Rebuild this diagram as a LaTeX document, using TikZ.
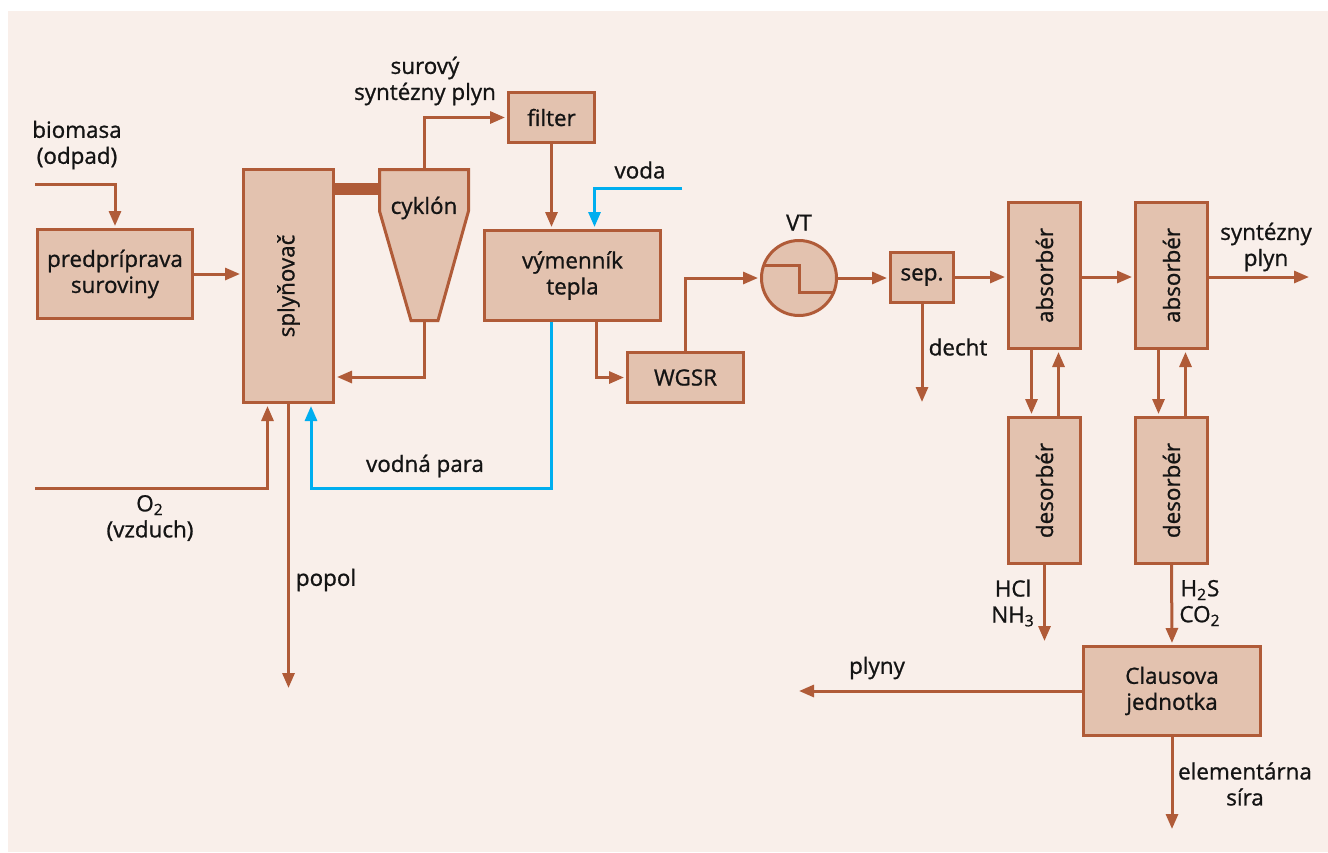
\documentclass[tikz,border=0pt]{standalone}
\usepackage{fontspec}
\setmainfont{Open Sans}[FakeBold=1.0]
\usepackage{xcolor}
\usetikzlibrary{arrows.meta,calc}
\definecolor{pbg}{RGB}{249,239,234}
\definecolor{pbox}{RGB}{227,194,175}
\definecolor{pline}{RGB}{176,91,56}
\definecolor{pblue}{RGB}{0,174,239}
\definecolor{ptext}{RGB}{20,20,20}
\newcommand{\lbl}{\fontsize{11.2}{13}\selectfont}
\tikzset{
  box/.style={rectangle,draw=pline,line width=1.5pt,fill=pbox,inner sep=1pt,
              align=center,font=\lbl,text=ptext},
  txt/.style={font=\lbl,align=center,inner sep=0pt,text=ptext},
  plain/.style={pline,line width=1.5pt},
  flow/.style={plain,-{Triangle[length=7.5pt,width=6pt]},shorten >=1pt},
  steam/.style={flow,draw=pblue},
  tube/.style={pline,line width=6pt},
}

\begin{document}
\begin{tikzpicture}[x=0.5pt,y=-0.5pt]
  \useasboundingbox (0,0) rectangle (1328,852);
  \fill[white] (0,0) rectangle (1328,852);
  \fill[pbg] (8,11) rectangle (1328,852);
  % gasifier line
  \node[box,minimum width=77.5pt,minimum height=44.5pt] (pre) at (115,274) {predpríprava\\suroviny};
  \node[box,minimum width=45pt,minimum height=116.5pt,
        label={[txt,rotate=90]center:splyňovač}] (gas) at (288.5,286) {};
  \coordinate (cykl) at (379.5,189);
  \draw[tube] (gas.east |- cykl) -- (cykl);
  \draw[plain,fill=pbox] (379.5,169.5) -- (468.5,169.5) -- (468.5,211) -- (438,320.5)
    -- (411,320.5) -- (379.5,211) -- cycle;
  \node[txt] (cyk) at (424,208) {cyklón};
  \coordinate (cyktop) at (424,169.5);
  \coordinate (cykbot) at (424,320.5);
  \node[box,minimum width=43pt,minimum height=25pt] (fil) at (551.5,117.5) {filter};
  \node[box,minimum width=88pt,minimum height=45pt] (vym) at (572.5,275.5) {výmenník\\tepla};
  \node[box,minimum width=58pt,minimum height=25pt] (wgsr) at (685.5,377.5) {WGSR};
  \node[circle,draw=pline,line width=1.5pt,fill=pbox,minimum size=37.5pt,
        label={[txt,label distance=4pt]above:VT}] (vt) at (799,278) {};
  \draw[plain] ($(vt)+(-35,-13)$) -| ($(vt)+(0,14)$) -- ($(vt)+(35,14)$);
  % cleaning
  \node[box,minimum width=31.5pt,minimum height=25pt] (sep) at (922,277) {sep.};
  \node[box,minimum width=36pt,minimum height=73pt,
        label={[txt,rotate=90]center:absorbér}] (ab1) at (1044.5,275.5) {};
  \node[box,minimum width=36pt,minimum height=73pt,
        label={[txt,rotate=90]center:absorbér}] (ab2) at (1171.5,275.5) {};
  \node[box,minimum width=36pt,minimum height=73pt,
        label={[txt,rotate=90]center:desorbér}] (de1) at (1044.5,490.5) {};
  \node[box,minimum width=36pt,minimum height=73pt,
        label={[txt,rotate=90]center:desorbér}] (de2) at (1171.5,490.5) {};
  \node[box,minimum width=88.5pt,minimum height=44.5pt] (cl) at (1172,691) {Clausova\\jednotka};
  % free ends
  \coordinate (bioin) at (35,184);
  \coordinate (oxin) at (35,488);
  \coordinate (ashout) at (288.5,690);
  \coordinate (parj) at (311,488);
  \coordinate (vodin) at (682,188);
  \coordinate (tarout) at (922,404);
  \coordinate (synout) at (1311,277);
  \coordinate (hclout) at (1044.5,643);
  \coordinate (plout) at (797,691);
  \coordinate (sulout) at (1172,831);
  % streams
  \draw[flow] (bioin) -| (pre.north);
  \draw[flow] (pre.east) -- (pre.east -| gas.west);
  \draw[flow] (oxin) -| ($(gas.south)+(-21,0)$);
  \draw[flow] (gas.south) -- (ashout);
  \draw[flow] (cyktop) |- (fil.west);
  \draw[flow] (cykbot) |- ($(gas.south east)+(0,-27)$);
  \draw[flow] (fil.south) -- (fil.south |- vym.north);
  \draw[steam] (vodin) -| ($(vym.north)+(22,0)$);
  \draw[steam] ($(vym.south)+(-21,0)$) |- (parj) -- (parj |- gas.south);
  \draw[flow] ($(vym.south)+(24,0)$) |- (wgsr.west);
  \draw[flow] (wgsr.north) |- (vt.west);
  \draw[flow] (vt.east) -- (vt.east -| sep.west);
  \draw[flow] (sep.east) -- (sep.east -| ab1.west);
  \draw[flow] (sep.south) -- (tarout);
  \draw[flow] (ab1.east |- sep.east) -- (ab2.west |- sep.east);
  \draw[flow] (ab2.east |- synout) -- (synout);
  \draw[flow] ($(ab1.south)+(-13,0)$) -- ($(de1.north)+(-13,0)$);
  \draw[flow] ($(de1.north)+(14,0)$) -- ($(ab1.south)+(14,0)$);
  \draw[flow] ($(ab2.south)+(-13,0)$) -- ($(de2.north)+(-13,0)$);
  \draw[flow] ($(de2.north)+(14,0)$) -- ($(ab2.south)+(14,0)$);
  \draw[flow] (de1.south) -- (hclout);
  \draw[flow] (de2.south) -- (cl.north);
  \draw[flow] (cl.west) -- (plout);
  \draw[flow] (cl.south) -- (sulout);
  % stream labels
  \node[txt] (bio) at (77,145) {biomasa\\(odpad)};
  \node[txt] (raw) at (425,81) {surový\\syntézny plyn};
  \node[txt] (vod) at (640,170) {voda};
  \node[txt] (par) at (425,466) {vodná para};
  \node[txt] (oxy) at (150,518) {O\textsubscript{2}\\(vzduch)};
  \node[txt] (ash) at (326,580) {popol};
  \node[txt] (tar) at (958,347) {decht};
  \node[txt] (syn) at (1266,247) {syntézny\\plyn};
  \node[txt] (hcl) at (1013,603) {HCl\\NH\textsubscript{3}};
  \node[txt] (hs) at (1200,603) {H\textsubscript{2}S\\CO\textsubscript{2}};
  \node[txt] (pl) at (877,668) {plyny};
  \node[txt] (sul) at (1245,784) {elementárna\\síra};
\end{tikzpicture}
\end{document}
